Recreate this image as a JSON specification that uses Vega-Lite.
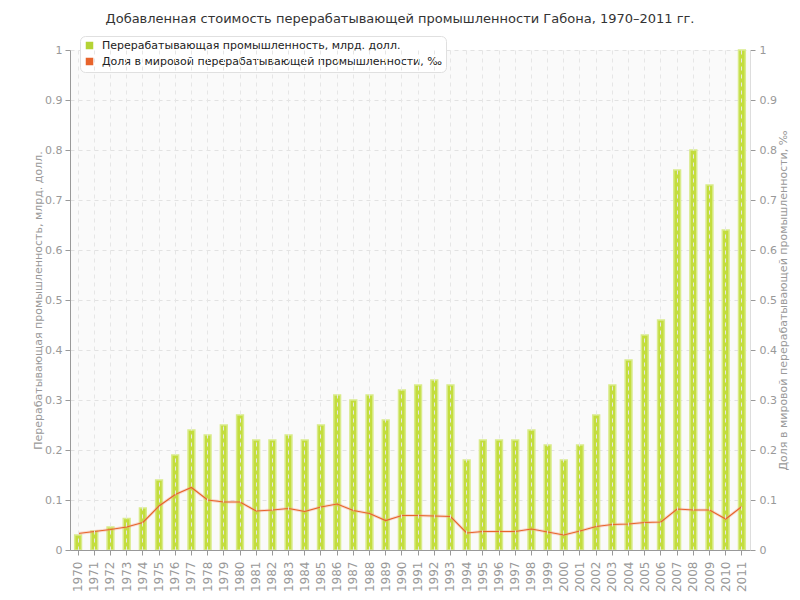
{
  "$schema": "https://vega.github.io/schema/vega-lite/v6.json",
  "width": 680,
  "height": 500,
  "autosize": {"type": "none"},
  "padding": {"left": 70, "top": 50, "right": 50, "bottom": 50},
  "background": "white",
  "config": {
    "font": "DejaVu Sans",
    "view": {"fill": "#fafafa", "stroke": null},
    "axis": {
      "labelColor": "#999999",
      "labelFontSize": 11,
      "titleColor": "#999999",
      "titleFontSize": 11,
      "titleFontWeight": "normal",
      "domainColor": "#999999",
      "tickColor": "#999999",
      "gridColor": "#e2e2e2",
      "gridDash": [4, 4]
    }
  },
  "title": {
    "text": "Добавленная стоимость перерабатывающей промышленности Габона, 1970–2011 гг.",
    "fontSize": 13,
    "fontWeight": "normal",
    "color": "#333333",
    "offset": 10,
    "dx": -10
  },
  "data": {
    "values": [
      {"year": "1970", "value": 0.03, "share": 0.033},
      {"year": "1971", "value": 0.038, "share": 0.037},
      {"year": "1972", "value": 0.046, "share": 0.041},
      {"year": "1973", "value": 0.063, "share": 0.046},
      {"year": "1974", "value": 0.084, "share": 0.055},
      {"year": "1975", "value": 0.14, "share": 0.088},
      {"year": "1976", "value": 0.19, "share": 0.111},
      {"year": "1977", "value": 0.24, "share": 0.125},
      {"year": "1978", "value": 0.23, "share": 0.1},
      {"year": "1979", "value": 0.25, "share": 0.096},
      {"year": "1980", "value": 0.27, "share": 0.096},
      {"year": "1981", "value": 0.22, "share": 0.078},
      {"year": "1982", "value": 0.22, "share": 0.08},
      {"year": "1983", "value": 0.23, "share": 0.083},
      {"year": "1984", "value": 0.22, "share": 0.077},
      {"year": "1985", "value": 0.25, "share": 0.086},
      {"year": "1986", "value": 0.31, "share": 0.092},
      {"year": "1987", "value": 0.3, "share": 0.079},
      {"year": "1988", "value": 0.31, "share": 0.073},
      {"year": "1989", "value": 0.26, "share": 0.059},
      {"year": "1990", "value": 0.32, "share": 0.069},
      {"year": "1991", "value": 0.33, "share": 0.069},
      {"year": "1992", "value": 0.34, "share": 0.068},
      {"year": "1993", "value": 0.33, "share": 0.067},
      {"year": "1994", "value": 0.18, "share": 0.034},
      {"year": "1995", "value": 0.22, "share": 0.037},
      {"year": "1996", "value": 0.22, "share": 0.037},
      {"year": "1997", "value": 0.22, "share": 0.037},
      {"year": "1998", "value": 0.24, "share": 0.042},
      {"year": "1999", "value": 0.21, "share": 0.036},
      {"year": "2000", "value": 0.18, "share": 0.03},
      {"year": "2001", "value": 0.21, "share": 0.038},
      {"year": "2002", "value": 0.27, "share": 0.047},
      {"year": "2003", "value": 0.33, "share": 0.051},
      {"year": "2004", "value": 0.38, "share": 0.052},
      {"year": "2005", "value": 0.43, "share": 0.055},
      {"year": "2006", "value": 0.46, "share": 0.056},
      {"year": "2007", "value": 0.76, "share": 0.082},
      {"year": "2008", "value": 0.8, "share": 0.08},
      {"year": "2009", "value": 0.73, "share": 0.08},
      {"year": "2010", "value": 0.64, "share": 0.062},
      {"year": "2011", "value": 1.0, "share": 0.087}
    ]
  },
  "encoding": {
    "x": {
      "field": "year",
      "type": "ordinal",
      "title": null,
      "scale": {"paddingInner": 0, "paddingOuter": 0},
      "axis": {
        "labelAngle": 270,
        "labelAlign": "right",
        "labelBaseline": "middle",
        "labelPadding": 6,
        "labelFontSize": 12,
        "tickSize": 5,
        "grid": true,
        "zindex": 1,
        "gridColor": "#e6e6e6"
      }
    }
  },
  "layer": [
    {
      "mark": {"type": "bar", "width": {"band": 0.42}, "fill": "#c3dd3d", "stroke": "#d9eb8a", "strokeWidth": 1.5},
      "encoding": {
        "y": {
          "field": "value",
          "type": "quantitative",
          "scale": {"domain": [0, 1]},
          "axis": {
            "orient": "left",
            "title": "Перерабатывающая промышленность, млрд. долл.",
            "tickCount": 10,
            "format": "~g",
            "tickSize": 5,
            "labelPadding": 3,
            "titlePadding": 1,
            "grid": true
          }
        },
        "color": {
          "datum": "Перерабатывающая промышленность, млрд. долл.",
          "type": "nominal",
          "scale": {
            "domain": ["Перерабатывающая промышленность, млрд. долл.", "Доля в мировой перерабатывающей промышленности, ‰"],
            "range": ["#b5d334", "#e8642c"]
          },
          "legend": {
            "title": null,
            "orient": "none",
            "legendX": 10,
            "legendY": -14,
            "fillColor": "white",
            "strokeColor": "#e0e0e0",
            "cornerRadius": 5,
            "padding": 4,
            "rowPadding": 3,
            "symbolType": "square",
            "symbolSize": 36,
            "labelFontSize": 11,
            "labelLimit": 500,
            "labelColor": "#222222",
            "labelOffset": 7,
            "encode": {
              "symbols": {"update": {"fill": {"scale": "color", "field": "value"}, "stroke": {"value": "transparent"}, "shape": {"value": "square"}}}
            }
          }
        }
      }
    },
    {
      "layer": [
        {
          "mark": {"type": "line", "stroke": "#f0a080", "strokeWidth": 3, "opacity": 0.35},
          "encoding": {
            "y": {
              "field": "share",
              "type": "quantitative",
              "scale": {"domain": [0, 1]},
              "axis": {
                "orient": "right",
                "title": "Доля в мировой перерабатывающей промышленности, ‰",
                "titleAngle": -90,
                "tickCount": 10,
                "format": "~g",
                "tickSize": 5,
                "labelPadding": 4,
                "titlePadding": 12,
                "grid": false,
                "domainColor": "#dddddd"
              }
            }
          }
        },
        {
          "mark": {"type": "line", "strokeWidth": 1.2},
          "encoding": {
            "y": {"field": "share", "type": "quantitative"},
            "color": {"datum": "Доля в мировой перерабатывающей промышленности, ‰", "type": "nominal"}
          }
        }
      ]
    }
  ],
  "resolve": {"scale": {"y": "independent"}}
}
